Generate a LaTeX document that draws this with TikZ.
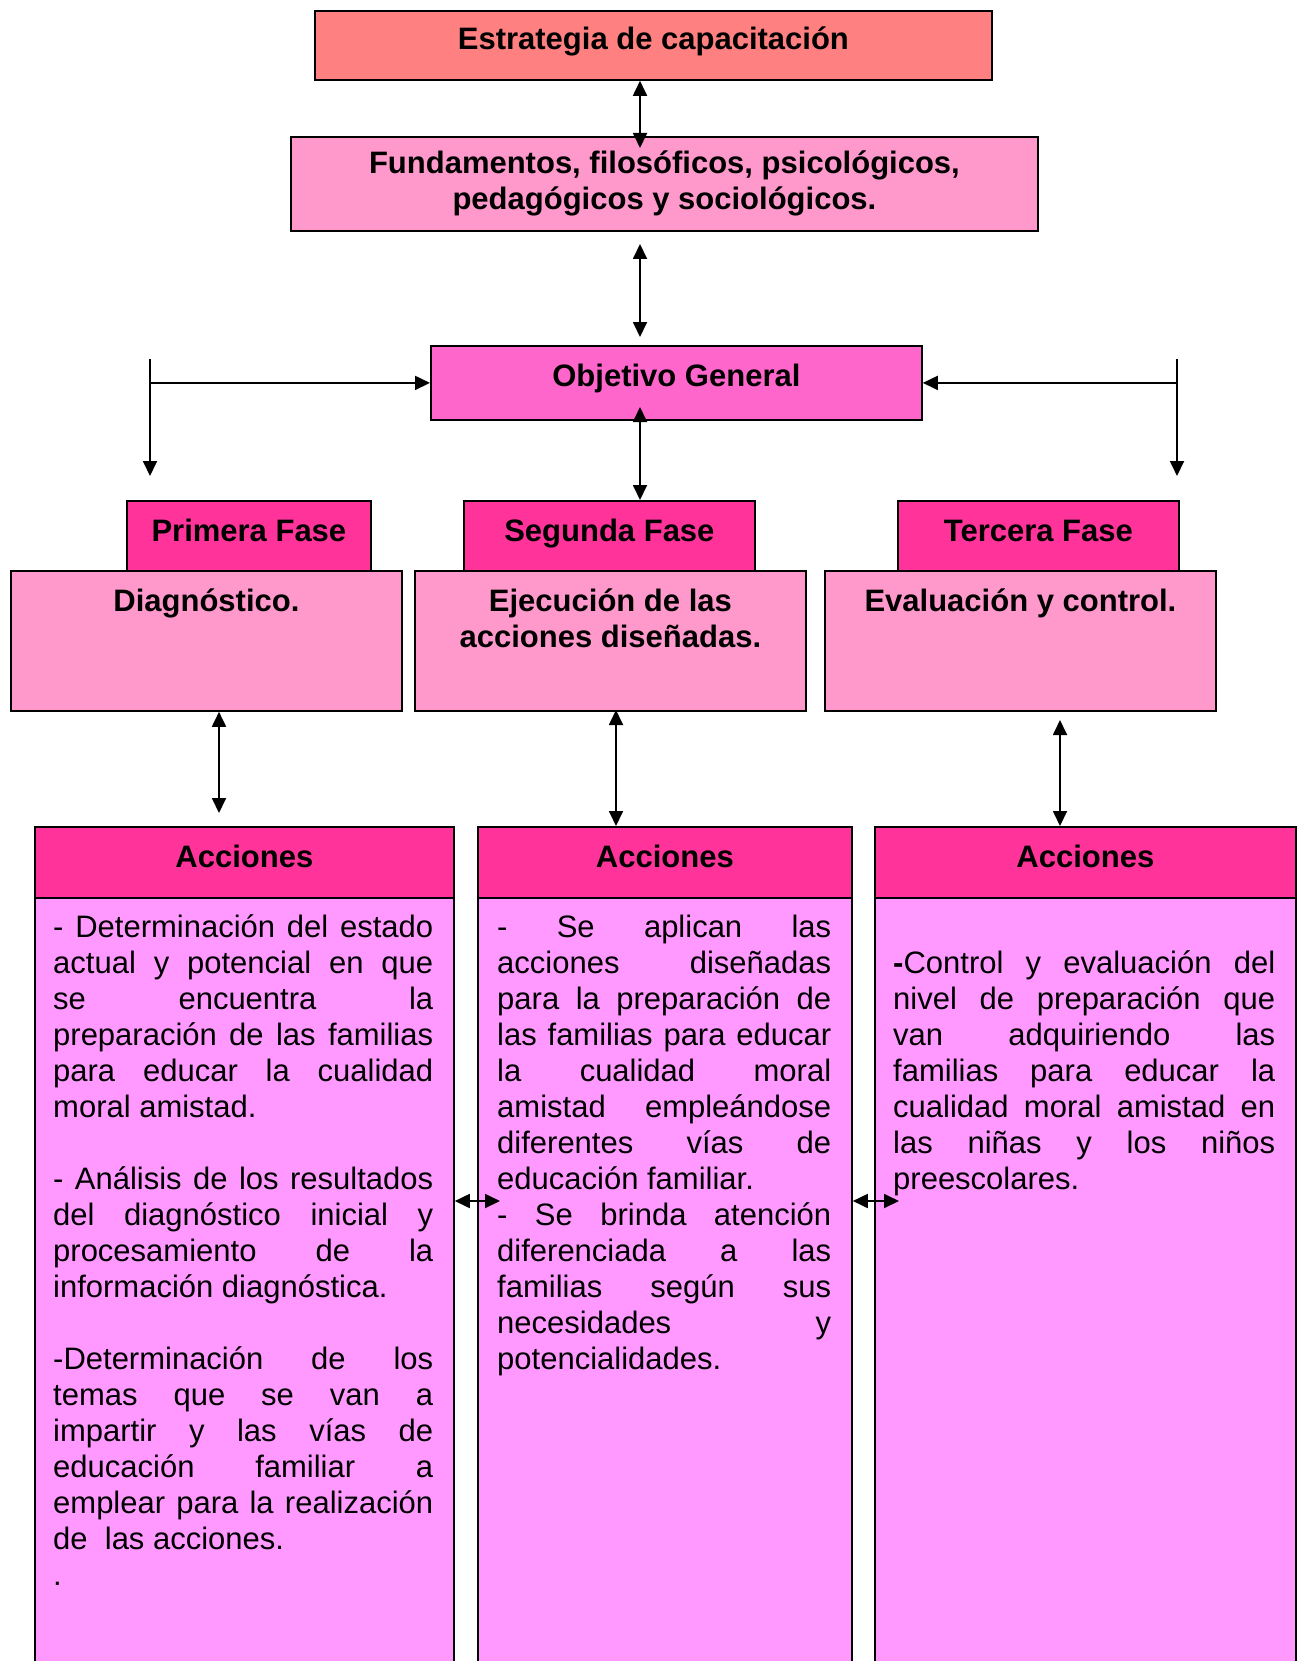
\documentclass[tikz,border=0pt]{standalone}
\usepackage{fontspec}
\setmainfont{Liberation Sans}
\usepackage{tikz}
\usetikzlibrary{arrows.meta}
\definecolor{salmon}{HTML}{FF8080}
\definecolor{rosaclaro}{HTML}{FF99CC}
\definecolor{rosamedio}{HTML}{FF66CC}
\definecolor{fucsia}{HTML}{FF3399}
\definecolor{lila}{HTML}{FF99FF}
\hyphenpenalty=10000
\exhyphenpenalty=10000
\tolerance=10000
\hbadness=10000

\begin{document}
\begin{tikzpicture}[x=1pt,y=-1pt,
    caja/.style={draw=black,line width=1.8pt,anchor=north west,inner sep=0pt},
    titulo/.style={anchor=base,inner sep=0pt,align=center,font=\fontsize{31}{36}\selectfont\bfseries},
    texto/.style={anchor=base west,inner sep=0pt,align=justify,font=\fontsize{31}{36}\selectfont},
    flecha/.style={line width=1.8pt,{Triangle[length=15pt,width=14pt]}-{Triangle[length=15pt,width=14pt]}},
    baja/.style={line width=1.8pt,-{Triangle[length=15pt,width=14pt]}}]
    \useasboundingbox (0,0) rectangle (1297,1661);
    \clip (0,0) rectangle (1297,1661);

    \node[caja,fill=salmon,minimum width=677pt,minimum height=69pt] (estr) at (314,10) {};
    \node[caja,fill=rosaclaro,minimum width=747pt,minimum height=94pt] (fund) at (290,136) {};
    \node[caja,fill=rosamedio,minimum width=491pt,minimum height=74pt] (obj) at (430,345) {};
    \node[titulo] (testr) at ([yshift=-40pt]estr.north) {Estrategia de capacitación};
    \node[titulo] (tfund) at ([yshift=-74pt]fund.north) {Fundamentos, filosóficos, psicológicos,\\ pedagógicos y sociológicos.};
    \node[titulo] (tobj) at ([yshift=-41pt]obj.north) {Objetivo General};

    % fases
    \foreach \n/\x/\w/\t in {1/126/244/Primera Fase, 2/463/291/Segunda Fase, 3/897/281/Tercera Fase}{
        \node[caja,fill=fucsia,minimum width=\w pt,minimum height=70pt] (f\n) at (\x,500) {};
        \node[titulo] (tf\n) at ([yshift=-41pt]f\n.north) {\t};
    }
    \foreach \n/\x in {1/10, 2/414, 3/824}
        \node[caja,fill=rosaclaro,minimum width=391pt,minimum height=140pt] (d\n) at (\x,570) {};
    \node[titulo] (td1) at ([yshift=-41pt]d1.north) {Diagnóstico.};
    \node[titulo] (td2) at ([yshift=-77pt]d2.north) {Ejecución de las\\ acciones diseñadas.};
    \node[titulo] (td3) at ([yshift=-41pt]d3.north) {Evaluación y control.};

    % acciones
    \foreach \n/\x/\w in {1/34/419, 2/477/374, 3/874/421}{
        \node[caja,fill=fucsia,minimum width=\w pt,minimum height=71pt] (a\n) at (\x,826) {};
        \node[caja,fill=lila,minimum width=\w pt,minimum height=820pt] (b\n) at (\x,897) {};
        \node[titulo] (ta\n) at ([yshift=-41pt]a\n.north) {Acciones};
    }

    \node[texto,text width=380pt] (tb1) at ([xshift=19pt,yshift=-40pt]b1.north west) {- Determinación del estado\linebreak
        actual y potencial en que\linebreak
        se encuentra la\linebreak
        preparación de las familias\linebreak
        para educar la cualidad\linebreak
        moral amistad.\par\vspace{36pt}
        - Análisis de los resultados\linebreak
        del diagnóstico inicial y\linebreak
        procesamiento de la\linebreak
        información diagnóstica.\par\vspace{36pt}
        -Determinación de los\linebreak
        temas que se van a\linebreak
        impartir y las vías de\linebreak
        educación familiar a\linebreak
        emplear para la realización\linebreak
        de\ \ las acciones.\par
        .};
    \node[texto,text width=334pt] (tb2) at ([xshift=20pt,yshift=-40pt]b2.north west) {- Se aplican las\linebreak
        acciones diseñadas\linebreak
        para la preparación de\linebreak
        las familias para educar\linebreak
        la cualidad moral\linebreak
        amistad empleándose\linebreak
        diferentes vías de\linebreak
        educación familiar.\par
        - Se brinda atención\linebreak
        diferenciada a las\linebreak
        familias según sus\linebreak
        necesidades y\linebreak
        potencialidades.};
    \node[texto,text width=382pt] (tb3) at ([xshift=19pt,yshift=-76pt]b3.north west) {\textbf{-}Control y evaluación del\linebreak
        nivel de preparación que\linebreak
        van adquiriendo las\linebreak
        familias para educar la\linebreak
        cualidad moral amistad en\linebreak
        las niñas y los niños\linebreak
        preescolares.};

    % conectores
    \coordinate (e1) at (640,148);
    \coordinate (e2) at (640,244);
    \coordinate (e3) at (640,337);
    \coordinate (e4) at (640,407);
    \coordinate (izq) at (150,359);
    \coordinate (izqb) at (150,476);
    \coordinate (der) at (1177,359);
    \coordinate (derb) at (1177,476);
    \coordinate (p1) at (219,813);
    \coordinate (p2) at (616,710);
    \coordinate (p3) at (1060,720);
    \coordinate (h1) at (500,1201);
    \coordinate (h2) at (899,1201);
    \draw[flecha] (estr.south -| e1) -- (e1);
    \draw[flecha] (e2) -- (e3);
    \draw[flecha] (e4) -- (f2.north -| e4);
    \draw[line width=1.8pt] (izq) -- (obj.west -| izq);
    \draw[baja] (obj.west -| izq) -- (izqb);
    \draw[baja] (obj.west -| izq) -- (obj.west);
    \draw[line width=1.8pt] (der) -- (obj.east -| der);
    \draw[baja] (obj.east -| der) -- (derb);
    \draw[baja] (obj.east -| der) -- (obj.east);
    \draw[flecha] (d1.south -| p1) -- (p1);
    \draw[flecha] (p2) -- (a2.north -| p2);
    \draw[flecha] (p3) -- (a3.north -| p3);
    \draw[flecha] (b1.east |- h1) -- (h1);
    \draw[flecha] (b2.east |- h2) -- (h2);
\end{tikzpicture}
\end{document}
